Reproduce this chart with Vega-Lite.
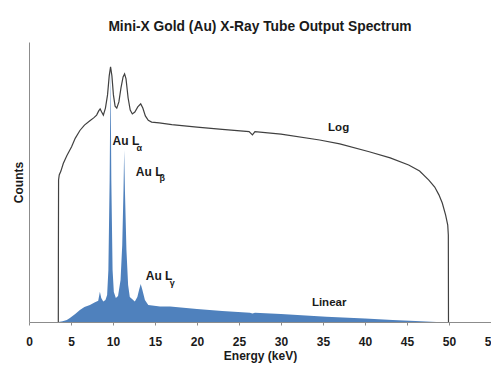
{
  "$schema": "https://vega.github.io/schema/vega-lite/v6.json",
  "width": 462,
  "height": 280,
  "autosize": {"type": "none"},
  "padding": {"left": 29, "top": 42, "right": 0, "bottom": 44},
  "background": "white",
  "title": {
    "text": "Mini-X Gold (Au) X-Ray Tube Output Spectrum",
    "font": "Liberation Sans",
    "fontSize": 13.8,
    "fontWeight": "bold",
    "color": "#1a1a1a",
    "anchor": "middle",
    "offset": 8
  },
  "config": {
    "view": {"stroke": null},
    "axis": {"grid": false, "domainColor": "#8c8c8c", "tickColor": "#8c8c8c", "labelFont": "Liberation Sans", "titleFont": "Liberation Sans", "labelColor": "#1a1a1a", "titleColor": "#1a1a1a"}
  },
  "datasets": {
    "logc": [
      {"E": 3.49, "v": 0}, {"E": 3.5, "v": 25.7}, {"E": 3.52, "v": 50.7}, {"E": 3.6, "v": 52.5},
      {"E": 3.8, "v": 53.9}, {"E": 4.08, "v": 56.6}, {"E": 4.5, "v": 59.4}, {"E": 5.07, "v": 62.6},
      {"E": 5.5, "v": 65.6}, {"E": 6.06, "v": 68.4}, {"E": 6.6, "v": 70.3}, {"E": 7.25, "v": 71.9},
      {"E": 7.7, "v": 72.9}, {"E": 8.05, "v": 73.9}, {"E": 8.3, "v": 75.4}, {"E": 8.47, "v": 76.1},
      {"E": 8.65, "v": 75}, {"E": 8.85, "v": 73.9}, {"E": 9.1, "v": 76.4}, {"E": 9.35, "v": 81.1},
      {"E": 9.55, "v": 87.9}, {"E": 9.71, "v": 91.1}, {"E": 9.87, "v": 87.9}, {"E": 10.05, "v": 81.1},
      {"E": 10.25, "v": 77.1}, {"E": 10.45, "v": 76.4}, {"E": 10.7, "v": 78.6}, {"E": 10.95, "v": 83.6},
      {"E": 11.2, "v": 87.5}, {"E": 11.38, "v": 88.6}, {"E": 11.55, "v": 86.8}, {"E": 11.8, "v": 80},
      {"E": 12.05, "v": 75.7}, {"E": 12.3, "v": 74.3}, {"E": 12.6, "v": 75}, {"E": 12.95, "v": 76.8},
      {"E": 13.3, "v": 77.9}, {"E": 13.55, "v": 76.4}, {"E": 13.85, "v": 73.6}, {"E": 14.2, "v": 72},
      {"E": 14.6, "v": 71.4}, {"E": 15.5, "v": 71.1}, {"E": 17, "v": 70.5}, {"E": 20, "v": 69.6},
      {"E": 23, "v": 68.8}, {"E": 26.2, "v": 68}, {"E": 26.6, "v": 66.8}, {"E": 26.9, "v": 68},
      {"E": 30, "v": 67.1}, {"E": 34.6, "v": 65}, {"E": 37, "v": 63.6}, {"E": 40.5, "v": 60.8},
      {"E": 43, "v": 58.6}, {"E": 45.2, "v": 56.1}, {"E": 46.5, "v": 53.9}, {"E": 47.6, "v": 50.7},
      {"E": 48.3, "v": 48.2}, {"E": 48.8, "v": 45.4}, {"E": 49.2, "v": 42.5}, {"E": 49.6, "v": 38.2},
      {"E": 49.85, "v": 34.6}, {"E": 49.92, "v": 31.1}, {"E": 49.94, "v": 0}
    ],
    "lin": [
      {"E": 3.5, "v": 0}, {"E": 4.0, "v": 0.25}, {"E": 4.5, "v": 0.7}, {"E": 4.87, "v": 1.4},
      {"E": 5.5, "v": 2.9}, {"E": 6.06, "v": 4.3}, {"E": 6.6, "v": 5.4}, {"E": 7.25, "v": 6.1},
      {"E": 7.8, "v": 7}, {"E": 8.24, "v": 7.6}, {"E": 8.44, "v": 10.8}, {"E": 8.6, "v": 8.6},
      {"E": 8.84, "v": 7.3}, {"E": 9.1, "v": 7.9}, {"E": 9.3, "v": 9.6}, {"E": 9.45, "v": 18.6},
      {"E": 9.6, "v": 50.7}, {"E": 9.71, "v": 90.7}, {"E": 9.8, "v": 50.7}, {"E": 9.95, "v": 18.6},
      {"E": 10.1, "v": 10.7}, {"E": 10.34, "v": 8.6}, {"E": 10.6, "v": 9.3}, {"E": 10.9, "v": 15},
      {"E": 11.1, "v": 27.5}, {"E": 11.25, "v": 47.1}, {"E": 11.33, "v": 61.4}, {"E": 11.42, "v": 47.1},
      {"E": 11.6, "v": 25.7}, {"E": 11.8, "v": 13.2}, {"E": 12.0, "v": 8.9}, {"E": 12.6, "v": 7.3},
      {"E": 12.9, "v": 8.9}, {"E": 13.1, "v": 11.4}, {"E": 13.3, "v": 13.6}, {"E": 13.5, "v": 11.4},
      {"E": 13.8, "v": 7.9}, {"E": 14.2, "v": 6.1}, {"E": 15.6, "v": 5.5}, {"E": 16.8, "v": 5.5},
      {"E": 20, "v": 4.6}, {"E": 23, "v": 3.9}, {"E": 26.3, "v": 3.3}, {"E": 26.6, "v": 3},
      {"E": 26.9, "v": 3.3}, {"E": 30, "v": 2.9}, {"E": 35.4, "v": 1.9}, {"E": 40, "v": 1.25},
      {"E": 43.3, "v": 0.7}, {"E": 46, "v": 0.36}, {"E": 48.5, "v": 0}, {"E": 50, "v": 0}
    ],
    "labels": [
      {"E": 9.95, "v": 64.6, "t": "Au L"},
      {"E": 12.72, "v": 53.6, "t": "Au L"},
      {"E": 13.9, "v": 16.4, "t": "Au L"}
    ],
    "subs": [
      {"E": 12.8, "v": 62.1, "t": "α"},
      {"E": 15.55, "v": 51.3, "t": "β"},
      {"E": 16.75, "v": 14.1, "t": "γ"}
    ],
    "series": [
      {"E": 36.86, "v": 69.3, "t": "Log"},
      {"E": 35.73, "v": 6.8, "t": "Linear"}
    ]
  },
  "layer": [
    {
      "data": {"name": "lin"},
      "mark": {"type": "area", "color": "#4f81bd", "opacity": 1},
      "encoding": {
        "x": {"field": "E", "type": "quantitative", "scale": {"domain": [0, 55], "nice": false}, "axis": {"title": "Energy (keV)", "values": [0, 5, 10, 15, 20, 25, 30, 35, 40, 45, 50, 55], "tickSize": 3, "labelFontSize": 12, "labelFontWeight": "bold", "labelPadding": 11, "titleFontSize": 12, "titleFontWeight": "bold", "titlePadding": 3, "labelFlush": false, "labelOverlap": false}},
        "y": {"field": "v", "type": "quantitative", "scale": {"domain": [0, 100], "nice": false}, "axis": {"title": "Counts", "labels": false, "ticks": false, "titleFontSize": 12, "titleFontWeight": "bold", "titlePadding": 4}}
      }
    },
    {
      "data": {"name": "logc"},
      "mark": {"type": "line", "color": "#404040", "strokeWidth": 1.2},
      "encoding": {
        "x": {"field": "E", "type": "quantitative"},
        "y": {"field": "v", "type": "quantitative"}
      }
    },
    {
      "data": {"name": "labels"},
      "mark": {"type": "text", "align": "left", "baseline": "middle", "font": "Liberation Sans", "fontSize": 12, "fontWeight": "bold", "color": "#1a1a1a"},
      "encoding": {
        "x": {"field": "E", "type": "quantitative"},
        "y": {"field": "v", "type": "quantitative"},
        "text": {"field": "t"}
      }
    },
    {
      "data": {"name": "subs"},
      "mark": {"type": "text", "align": "left", "baseline": "middle", "font": "Liberation Sans", "fontSize": 9, "fontWeight": "bold", "color": "#1a1a1a"},
      "encoding": {
        "x": {"field": "E", "type": "quantitative"},
        "y": {"field": "v", "type": "quantitative"},
        "text": {"field": "t"}
      }
    },
    {
      "data": {"name": "series"},
      "mark": {"type": "text", "align": "center", "baseline": "middle", "font": "Liberation Sans", "fontSize": 11.5, "fontWeight": "bold", "color": "#1a1a1a"},
      "encoding": {
        "x": {"field": "E", "type": "quantitative"},
        "y": {"field": "v", "type": "quantitative"},
        "text": {"field": "t"}
      }
    }
  ]
}
